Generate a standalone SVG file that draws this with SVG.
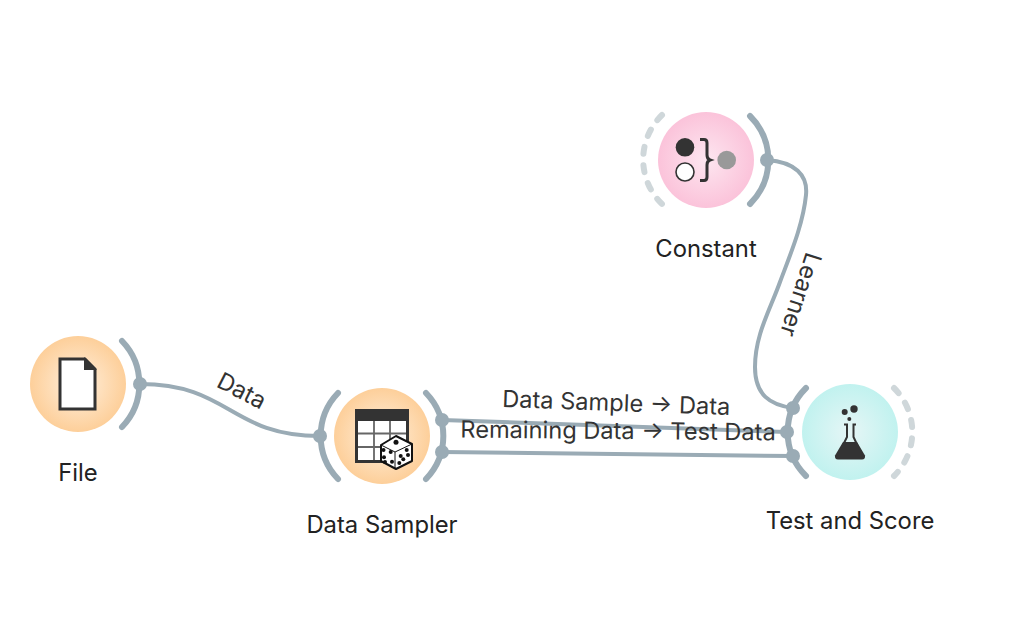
<svg xmlns="http://www.w3.org/2000/svg" width="1028" height="624" viewBox="0 0 1028 624">
<style>
.node{font-family:"Inter","Liberation Sans",sans-serif;font-size:23.8px;fill:#222;text-anchor:middle}
.lbl{font-family:"Inter","Liberation Sans",sans-serif;font-size:23.6px;fill:#333;text-anchor:middle}
.arc{fill:none;stroke:#9aabb5;stroke-width:6;stroke-linecap:round}
.dash{fill:none;stroke:#cfd7da;stroke-width:6;stroke-linecap:round;stroke-dasharray:7 11.4}
.link{fill:none;stroke:#9aabb5;stroke-width:4}
.port{fill:#9aabb5}
.ink{fill:#333}
</style>
<defs>
<radialGradient id="o"><stop offset="0" stop-color="#fff0de"/><stop offset="1" stop-color="#fdcf9a"/></radialGradient>
<radialGradient id="p"><stop offset="0" stop-color="#fde6f0"/><stop offset="1" stop-color="#fbc3da"/></radialGradient>
<radialGradient id="t"><stop offset="0" stop-color="#e6f6f6"/><stop offset="1" stop-color="#c1f2ef"/></radialGradient>
</defs>
<g id="connectors">
<path class="link" d="M140 384C230 384 230 436 320 436"/>
<path class="link" d="M442 420L787 432"/>
<path class="link" d="M442 452L793 456"/>
<path class="link" d="M767 160C795 162 808 175 806 195C803 225 790 255 780 282C770 310 755 335 755 367C755 395 770 405 793 408"/>
<text class="lbl" transform="translate(238 398) rotate(27)">Data</text>
<text class="lbl" transform="translate(616 411) rotate(2)">Data Sample → Data</text>
<text class="lbl" transform="translate(618 439) rotate(.5)">Remaining Data → Test Data</text>
<text class="lbl" transform="translate(793 292) rotate(108)">Learner</text>
</g>
<g id="file">
<circle cx="78" cy="384" r="48" fill="url(#o)"/>
<path class="arc" d="M122 341A62 62 0 0 1 122 427"/>
<circle class="port" cx="140" cy="384" r="7"/>
<path d="M60 359H85L95 369V409H60Z" fill="#fff" stroke="#333" stroke-width="3"/>
<path class="ink" d="M84 357L97 370H84Z"/>
<text class="node" x="78" y="481">File</text>
</g>
<g id="data-sampler">
<circle cx="382" cy="436" r="48" fill="url(#o)"/>
<path class="arc" d="M338 393A62 62 0 0 0 338 479"/>
<path class="arc" d="M426 393A62 62 0 0 1 426 479"/>
<circle class="port" cx="320" cy="436" r="7"/>
<circle class="port" cx="442" cy="420" r="7"/>
<circle class="port" cx="442" cy="452" r="7"/>
<rect x="355" y="409" width="54" height="54" class="ink"/>
<path d="M358 421H406V460H358Z" fill="#fff"/>
<path d="M358 433.500H406M358 447H406M374 421V460M390 421V460" stroke="#666" stroke-width="1.800" fill="none"/>
<path d="M396 436L412 444V461L396 469L381 461V445Z" fill="#fff" stroke="#111" stroke-width="2" stroke-linejoin="round"/>
<path d="M381 445L395 452L412 444M395 452V469" fill="none" stroke="#111" stroke-width="1"/>
<g fill="#111"><circle cx="396" cy="442.300" r="2.500"/><circle cx="383.500" cy="450" r="2"/><circle cx="390.700" cy="452" r="2"/><circle cx="384" cy="457.300" r="2"/><circle cx="392" cy="461.700" r="2"/><circle cx="385" cy="462" r="2"/><circle cx="406.700" cy="450" r="2"/><circle cx="400.700" cy="456" r="2"/><circle cx="408" cy="455" r="2"/><circle cx="403.300" cy="459.300" r="2"/><circle cx="399.300" cy="463" r="2"/></g>
<text class="node" x="382" y="533">Data Sampler</text>
</g>
<g id="constant">
<circle cx="706" cy="160" r="48" fill="url(#p)"/>
<path class="dash" d="M662 115A62 62 0 0 0 662 204"/>
<path class="arc" d="M750 116A62 62 0 0 1 750 204"/>
<circle class="port" cx="767" cy="160" r="7"/>
<circle class="ink" cx="685" cy="147.300" r="9.300"/>
<circle cx="685" cy="172" r="9" fill="#fff" stroke="#333" stroke-width="1.600"/>
<path d="M700 139.500H704Q707 139.500 707 143V155Q707 159 710 160Q707 161 707 165V177Q707 180.500 704 180.500H700" fill="none" stroke="#333" stroke-width="3"/>
<circle cx="726.700" cy="160" r="9.300" fill="#999"/>
<text class="node" x="706" y="257">Constant</text>
</g>
<g id="test-and-score">
<circle cx="850" cy="432" r="48" fill="url(#t)"/>
<path class="arc" d="M806 388A62 62 0 0 0 806 476"/>
<path class="dash" d="M894 388A62 62 0 0 1 894 476"/>
<circle class="port" cx="793" cy="408" r="7"/>
<circle class="port" cx="787" cy="432" r="7"/>
<circle class="port" cx="793" cy="456" r="7"/>
<circle class="ink" cx="854" cy="409" r="3.700"/>
<circle class="ink" cx="844.700" cy="412" r="3"/>
<circle class="ink" cx="849.300" cy="419" r="2"/>
<path d="M844 424.500H847V437L838 455M856 424.500H853.500V437L862 455" fill="none" stroke="#333" stroke-width="2"/>
<path class="ink" d="M843 442H857L865 455.500Q865.500 459.500 862 459.500H838Q834.500 459.500 835 455.500Z"/>
<text class="node" x="850" y="529">Test and Score</text>
</g>
</svg>
